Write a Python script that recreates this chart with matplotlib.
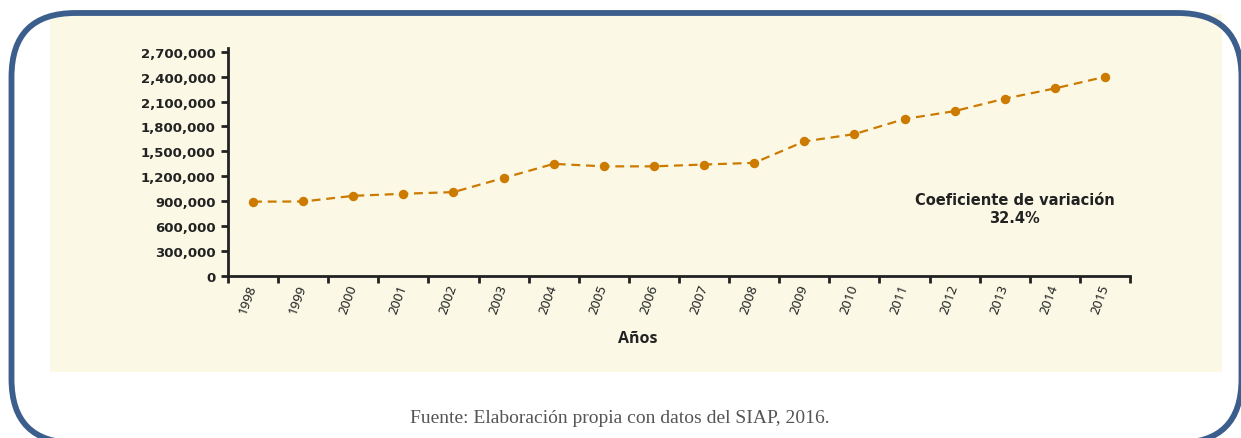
"""Producción anual 1998-2015 con coeficiente de variación (SIAP, 2016)."""
import matplotlib
matplotlib.use("Agg")
import matplotlib.pyplot as plt
from matplotlib.patches import FancyBboxPatch, Rectangle
from matplotlib.ticker import FuncFormatter
import numpy as np

years = [str(y) for y in range(1998, 2016)]
values = [895000, 897000, 965000, 990000, 1010000, 1180000, 1350000, 1320000, 1320000,
          1342000, 1362000, 1620000, 1708000, 1890000, 1985000, 2135000, 2258000, 2398000]
y_ticks = [0, 300000, 600000, 900000, 1200000, 1500000, 1800000, 2100000, 2400000, 2700000]
note = "Coeficiente de variación\n32.4%"
source = "Fuente: Elaboración propia con datos del SIAP, 2016."

ORANGE = "#CC7A00"
CREAM = "#FBF9E6"
FRAME = "#3B5E8C"
INK = "#222222"

fig = plt.figure(figsize=(12.41, 4.39), dpi=100)

# cream panel + rounded frame, in inches so the corners stay round
fig.patches.append(Rectangle((0.50, 0.66), 11.72, 3.58, transform=fig.dpi_scale_trans,
                             facecolor=CREAM, edgecolor="none", zorder=-2))
fig.patches.append(FancyBboxPatch((0.115, -0.05), 12.30, 4.30,
                                  boxstyle="round,pad=0,rounding_size=0.64",
                                  transform=fig.dpi_scale_trans, facecolor="none",
                                  edgecolor=FRAME, linewidth=4.2, zorder=-1))

ax = fig.add_axes([0.1837, 0.369, 0.7269, 0.5185])
ax.set_facecolor("none")

x = np.arange(len(years))
ax.plot(x, values, color=ORANGE, linestyle=(0, (4, 2.6)), linewidth=1.6,
        marker="o", markersize=6.8, markeredgewidth=0)

ax.set_xlim(-0.5, len(years) - 0.5)
ax.set_ylim(0, 2740000)
ax.set_yticks(y_ticks)
ax.yaxis.set_major_formatter(FuncFormatter(lambda v, _: f"{v:,.0f}"))
for lab in ax.get_yticklabels():
    lab.set_fontweight("bold")

# major ticks on category boundaries, labels on minor ticks at centres
ax.set_xticks(np.arange(-0.5, len(years), 1))
ax.set_xticklabels([])
ax.set_xticks(x, minor=True)
ax.set_xticklabels(years, minor=True, rotation=70, ha="right", va="center",
                   rotation_mode="anchor", fontsize=9.5, family="Noto Sans", color=INK)
ax.tick_params(axis="x", which="minor", length=0, pad=6)
ax.tick_params(axis="x", which="major", length=5, width=2, color=INK, direction="out")
ax.tick_params(axis="y", length=5, width=2, color=INK, labelsize=9.5, labelcolor=INK, pad=4)

for side in ("top", "right"):
    ax.spines[side].set_visible(False)
for side in ("left", "bottom"):
    ax.spines[side].set_linewidth(2)
    ax.spines[side].set_color(INK)

ax.text(15.2, 1010000, note, ha="center", va="top", fontsize=10.5, fontweight="bold",
        color=INK, linespacing=1.25)

fig.text(638 / 1241, 1 - 339 / 439, "Años", ha="center", va="center",
         fontsize=11.5, fontweight="bold", color=INK, family="Open Sans")
fig.text(620 / 1241, 1 - 419 / 439, source, ha="center", va="center",
         fontsize=14, color="#555555", family="Liberation Serif")

fig.savefig("out.png", dpi=100)
